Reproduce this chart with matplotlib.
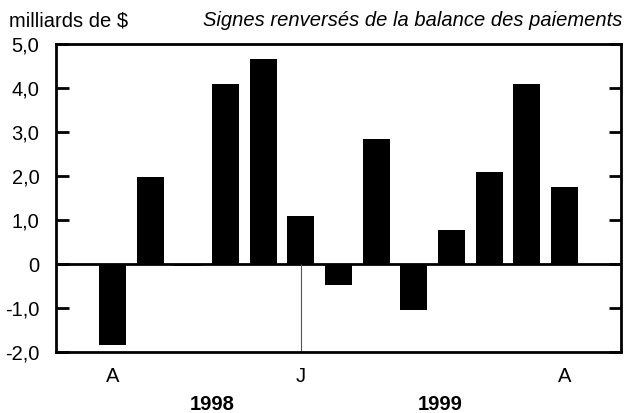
import matplotlib.pyplot as plt
from matplotlib.ticker import FixedLocator

plt.rcParams['font.family'] = ['Liberation Sans', 'DejaVu Sans']

# aout 1998 - aout 1999
values = [-1.85, 1.98, -0.05, 4.09, 4.65, 1.09, -0.48, 2.84, -1.05, 0.77, 2.09, 4.09, 1.75]
month_labels = ['A', '', '', '', '', 'J', '', '', '', '', '', '', 'A']
year_labels = ['1998', '1999']
y_ticks = [-2, -1, 0, 1, 2, 3, 4, 5]
y_tick_labels = ['-2,0', '-1,0', '0', '1,0', '2,0', '3,0', '4,0', '5,0']

x = list(range(len(values)))
fs = 14.5

fig = plt.figure(figsize=(6.26, 4.13), dpi=100)
ax = fig.add_axes([56 / 626, 1 - 352 / 413, 565 / 626, 308 / 413])

ax.bar(x, values, width=0.72, color='black')
ax.axhline(0, color='black', lw=2)
ax.vlines(5, -2, 0, color='#555555', lw=0.8)

ax.set_xlim(-1.5, 13.5)
ax.set_ylim(-2, 5)

for s in ax.spines.values():
    s.set_linewidth(2)

ax.yaxis.set_major_locator(FixedLocator(y_ticks))
ax.set_yticklabels(y_tick_labels, fontsize=fs)
ax.tick_params(axis='y', direction='in', length=9, width=2, right=True, pad=12)

ax.set_xticks(x)
ax.set_xticklabels(month_labels, fontsize=fs)
ax.tick_params(axis='x', length=0, pad=11)

fig.text(212 / 626, 1 - 404 / 413, year_labels[0], ha='center', va='center',
         fontsize=fs, fontweight='bold')
fig.text(440 / 626, 1 - 404 / 413, year_labels[1], ha='center', va='center',
         fontsize=fs, fontweight='bold')

fig.text(9 / 626, 1 - 21 / 413, 'milliards de $', ha='left', va='center', fontsize=fs)
fig.text(622 / 626, 1 - 21 / 413, 'Signes renversés de la balance des paiements',
         ha='right', va='center', fontsize=fs, style='italic')

fig.savefig('out.png', dpi=100)
